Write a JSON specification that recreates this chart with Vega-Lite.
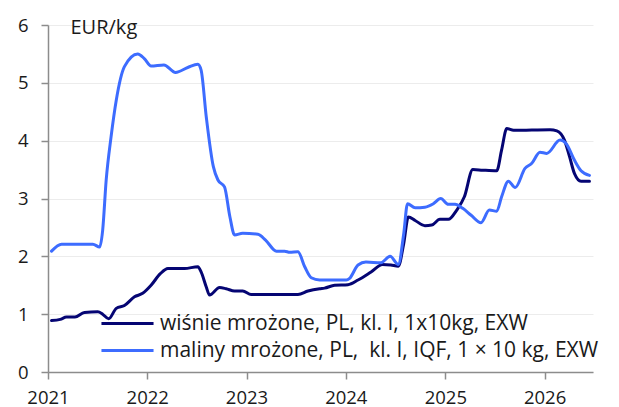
{
  "$schema": "https://vega.github.io/schema/vega-lite/v6.json",
  "width": 545,
  "height": 347,
  "autosize": {"type": "none"},
  "padding": {"left": 48, "top": 25, "right": 26, "bottom": 35},
  "config": {
    "font": "Open Sans",
    "view": {"stroke": null},
    "axis": {"labelFont": "Open Sans", "titleFont": "Open Sans"},
    "legend": {"labelFont": "Open Sans"}
  },
  "datasets": {
    "prices": [
      {"s": "w", "d": "2021-01-14", "v": 0.89},
      {"s": "w", "d": "2021-02-15", "v": 0.91},
      {"s": "w", "d": "2021-03-10", "v": 0.95},
      {"s": "w", "d": "2021-04-10", "v": 0.95},
      {"s": "w", "d": "2021-05-15", "v": 1.03},
      {"s": "w", "d": "2021-07-03", "v": 1.04},
      {"s": "w", "d": "2021-07-21", "v": 1.0},
      {"s": "w", "d": "2021-08-12", "v": 0.92},
      {"s": "w", "d": "2021-09-09", "v": 1.1},
      {"s": "w", "d": "2021-10-09", "v": 1.15},
      {"s": "w", "d": "2021-11-15", "v": 1.3},
      {"s": "w", "d": "2021-12-15", "v": 1.36},
      {"s": "w", "d": "2022-01-15", "v": 1.5},
      {"s": "w", "d": "2022-02-18", "v": 1.7},
      {"s": "w", "d": "2022-03-18", "v": 1.79},
      {"s": "w", "d": "2022-05-18", "v": 1.79},
      {"s": "w", "d": "2022-07-06", "v": 1.82},
      {"s": "w", "d": "2022-07-18", "v": 1.73},
      {"s": "w", "d": "2022-08-06", "v": 1.47},
      {"s": "w", "d": "2022-08-18", "v": 1.33},
      {"s": "w", "d": "2022-09-24", "v": 1.46},
      {"s": "w", "d": "2022-10-18", "v": 1.44},
      {"s": "w", "d": "2022-11-18", "v": 1.4},
      {"s": "w", "d": "2022-12-18", "v": 1.4},
      {"s": "w", "d": "2023-01-18", "v": 1.34},
      {"s": "w", "d": "2023-07-09", "v": 1.34},
      {"s": "w", "d": "2023-08-15", "v": 1.4},
      {"s": "w", "d": "2023-09-27", "v": 1.44},
      {"s": "w", "d": "2023-10-15", "v": 1.45},
      {"s": "w", "d": "2023-11-21", "v": 1.5},
      {"s": "w", "d": "2024-01-09", "v": 1.51},
      {"s": "w", "d": "2024-02-15", "v": 1.59},
      {"s": "w", "d": "2024-04-03", "v": 1.73},
      {"s": "w", "d": "2024-05-15", "v": 1.86},
      {"s": "w", "d": "2024-06-15", "v": 1.85},
      {"s": "w", "d": "2024-07-12", "v": 1.83},
      {"s": "w", "d": "2024-08-01", "v": 2.22},
      {"s": "w", "d": "2024-08-18", "v": 2.68},
      {"s": "w", "d": "2024-09-12", "v": 2.62},
      {"s": "w", "d": "2024-10-18", "v": 2.53},
      {"s": "w", "d": "2024-11-12", "v": 2.54},
      {"s": "w", "d": "2024-12-12", "v": 2.64},
      {"s": "w", "d": "2025-01-12", "v": 2.64},
      {"s": "w", "d": "2025-02-12", "v": 2.8},
      {"s": "w", "d": "2025-03-12", "v": 3.03},
      {"s": "w", "d": "2025-04-12", "v": 3.5},
      {"s": "w", "d": "2025-05-18", "v": 3.49},
      {"s": "w", "d": "2025-07-09", "v": 3.48},
      {"s": "w", "d": "2025-07-27", "v": 3.84},
      {"s": "w", "d": "2025-08-15", "v": 4.21},
      {"s": "w", "d": "2025-09-09", "v": 4.18},
      {"s": "w", "d": "2026-01-21", "v": 4.19},
      {"s": "w", "d": "2026-02-15", "v": 4.17},
      {"s": "w", "d": "2026-03-15", "v": 4.01},
      {"s": "w", "d": "2026-04-03", "v": 3.72},
      {"s": "w", "d": "2026-04-21", "v": 3.43},
      {"s": "w", "d": "2026-05-15", "v": 3.3},
      {"s": "w", "d": "2026-06-15", "v": 3.3},
      {"s": "m", "d": "2021-01-14", "v": 2.09},
      {"s": "m", "d": "2021-02-20", "v": 2.21},
      {"s": "m", "d": "2021-06-15", "v": 2.21},
      {"s": "m", "d": "2021-07-10", "v": 2.16},
      {"s": "m", "d": "2021-07-21", "v": 2.45},
      {"s": "m", "d": "2021-08-03", "v": 3.32},
      {"s": "m", "d": "2021-08-21", "v": 4.07},
      {"s": "m", "d": "2021-09-09", "v": 4.7},
      {"s": "m", "d": "2021-10-09", "v": 5.28},
      {"s": "m", "d": "2021-11-27", "v": 5.5},
      {"s": "m", "d": "2021-12-21", "v": 5.42},
      {"s": "m", "d": "2022-01-15", "v": 5.29},
      {"s": "m", "d": "2022-03-03", "v": 5.31},
      {"s": "m", "d": "2022-04-15", "v": 5.18},
      {"s": "m", "d": "2022-06-01", "v": 5.27},
      {"s": "m", "d": "2022-07-06", "v": 5.32},
      {"s": "m", "d": "2022-07-18", "v": 5.22},
      {"s": "m", "d": "2022-08-06", "v": 4.41},
      {"s": "m", "d": "2022-09-01", "v": 3.55},
      {"s": "m", "d": "2022-09-18", "v": 3.32},
      {"s": "m", "d": "2022-10-12", "v": 3.2},
      {"s": "m", "d": "2022-11-01", "v": 2.68},
      {"s": "m", "d": "2022-11-18", "v": 2.37},
      {"s": "m", "d": "2022-12-18", "v": 2.4},
      {"s": "m", "d": "2023-02-12", "v": 2.38},
      {"s": "m", "d": "2023-03-12", "v": 2.28},
      {"s": "m", "d": "2023-04-21", "v": 2.09},
      {"s": "m", "d": "2023-05-21", "v": 2.09},
      {"s": "m", "d": "2023-06-09", "v": 2.07},
      {"s": "m", "d": "2023-07-09", "v": 2.08},
      {"s": "m", "d": "2023-08-03", "v": 1.82},
      {"s": "m", "d": "2023-08-27", "v": 1.63},
      {"s": "m", "d": "2023-09-27", "v": 1.59},
      {"s": "m", "d": "2024-01-03", "v": 1.59},
      {"s": "m", "d": "2024-01-15", "v": 1.62},
      {"s": "m", "d": "2024-02-15", "v": 1.85},
      {"s": "m", "d": "2024-03-15", "v": 1.9},
      {"s": "m", "d": "2024-05-09", "v": 1.89},
      {"s": "m", "d": "2024-06-12", "v": 2.0},
      {"s": "m", "d": "2024-07-12", "v": 1.86},
      {"s": "m", "d": "2024-08-01", "v": 2.39},
      {"s": "m", "d": "2024-08-15", "v": 2.91},
      {"s": "m", "d": "2024-09-12", "v": 2.84},
      {"s": "m", "d": "2024-10-18", "v": 2.85},
      {"s": "m", "d": "2024-11-18", "v": 2.91},
      {"s": "m", "d": "2024-12-15", "v": 3.0},
      {"s": "m", "d": "2025-01-12", "v": 2.9},
      {"s": "m", "d": "2025-02-06", "v": 2.9},
      {"s": "m", "d": "2025-03-06", "v": 2.83},
      {"s": "m", "d": "2025-04-06", "v": 2.71},
      {"s": "m", "d": "2025-05-12", "v": 2.58},
      {"s": "m", "d": "2025-06-12", "v": 2.8},
      {"s": "m", "d": "2025-07-09", "v": 2.78},
      {"s": "m", "d": "2025-07-27", "v": 3.03},
      {"s": "m", "d": "2025-08-21", "v": 3.3},
      {"s": "m", "d": "2025-09-15", "v": 3.19},
      {"s": "m", "d": "2025-10-21", "v": 3.52},
      {"s": "m", "d": "2025-11-15", "v": 3.61},
      {"s": "m", "d": "2025-12-15", "v": 3.8},
      {"s": "m", "d": "2026-01-09", "v": 3.78},
      {"s": "m", "d": "2026-02-27", "v": 4.01},
      {"s": "m", "d": "2026-03-21", "v": 3.95},
      {"s": "m", "d": "2026-04-21", "v": 3.66},
      {"s": "m", "d": "2026-05-15", "v": 3.48},
      {"s": "m", "d": "2026-06-15", "v": 3.4}
    ]
  },
  "data": {"name": "prices"},
  "mark": {"type": "line", "interpolate": "monotone", "strokeWidth": 3, "strokeCap": "round", "strokeJoin": "round"},
  "encoding": {
    "x": {
      "field": "d",
      "type": "temporal",
      "scale": {
        "type": "utc",
        "domain": [
          {"year": 2021, "month": 1, "date": 1, "utc": true},
          {"year": 2026, "month": 6, "date": 28, "utc": true}
        ]
      },
      "axis": {
        "title": null,
        "values": [
          {"year": 2021, "month": 1, "date": 1, "utc": true},
          {"year": 2022, "month": 1, "date": 1, "utc": true},
          {"year": 2023, "month": 1, "date": 1, "utc": true},
          {"year": 2024, "month": 1, "date": 1, "utc": true},
          {"year": 2025, "month": 1, "date": 1, "utc": true},
          {"year": 2026, "month": 1, "date": 1, "utc": true}
        ],
        "format": "%Y",
        "grid": false,
        "domainColor": "#8c8c8c",
        "domainWidth": 1.5,
        "tickColor": "#8c8c8c",
        "tickWidth": 1.5,
        "tickSize": 7,
        "labelFontSize": 18.5,
        "labelColor": "#1a1a1a",
        "labelPadding": 9,
        "labelFlush": false,
        "labelOverlap": false
      }
    },
    "y": {
      "field": "v",
      "type": "quantitative",
      "scale": {"domain": [0, 6], "nice": false, "zero": true},
      "axis": {
        "title": "EUR/kg",
        "titleAngle": 0,
        "titleAlign": "left",
        "titleBaseline": "alphabetic",
        "titleX": 22,
        "titleY": 8,
        "titleFontSize": 20,
        "titleFontWeight": "normal",
        "titleColor": "#1a1a1a",
        "values": [0, 1, 2, 3, 4, 5, 6],
        "grid": true,
        "gridColor": "#ececec",
        "gridWidth": 1,
        "domainColor": "#8c8c8c",
        "domainWidth": 1.5,
        "tickColor": "#8c8c8c",
        "tickWidth": 1.5,
        "tickSize": 7,
        "labelFontSize": 18.5,
        "labelColor": "#1a1a1a",
        "labelPadding": 13
      }
    },
    "color": {
      "field": "s",
      "type": "nominal",
      "scale": {"domain": ["w", "m"], "range": ["#050573", "#3d6cff"]},
      "legend": {
        "orient": "none",
        "legendX": 66,
        "legendY": 285,
        "title": null,
        "symbolType": "M-2.17,0H2.17",
        "symbolSize": 576,
        "symbolStrokeWidth": 3,
        "labelFontSize": 21,
        "labelColor": "#1a1a1a",
        "labelOffset": 19,
        "labelLimit": 600,
        "rowPadding": 3,
        "labelExpr": "datum.value == 'w' ? 'wiśnie mrożone, PL, kl. I, 1x10kg, EXW' : 'maliny mrożone, PL,\u00a0 kl. I, IQF, 1 × 10 kg, EXW'"
      }
    }
  }
}
